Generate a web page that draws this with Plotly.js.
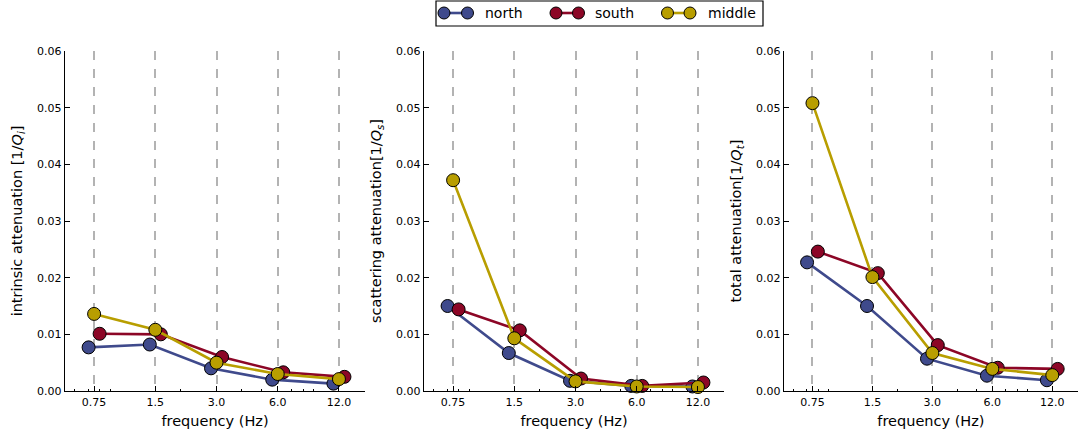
<!DOCTYPE html>
<html>
<head>
<meta charset="utf-8">
<script src="https://cdn.plot.ly/plotly-3.0.1.min.js"></script>
<style>html,body{margin:0;padding:0;background:#fff;}#chart{width:1080px;height:439px;}</style>
</head>
<body>
<div id="chart"></div>
<script>
const freqs = [0.75, 1.5, 3.0, 6.0, 12.0];
const tickLabels = ['0.75', '1.5', '3.0', '6.0', '12.0'];
const minorTicks = [0.6, 0.7, 0.8, 0.9, 2, 3, 4, 5, 6, 7, 8, 9];
const yTicks = [0, 0.01, 0.02, 0.03, 0.04, 0.05, 0.06];

const seriesNames = ['north', 'south', 'middle'];
const seriesColors = ['#3f4a8c', '#8c0626', '#b89e00'];
const shiftByName = {north: -0.09, south: 0.09, middle: 0}; // display offset in octaves

const intrinsicNorth  = [0.0077, 0.0082, 0.0040, 0.0020, 0.0013];
const intrinsicSouth  = [0.0101, 0.0100, 0.0060, 0.0033, 0.0025];
const intrinsicMiddle = [0.0136, 0.0108, 0.0050, 0.0030, 0.0021];

const scatteringNorth  = [0.0150, 0.0067, 0.0018, 0.0009, 0.0008];
const scatteringSouth  = [0.0144, 0.0107, 0.0022, 0.0009, 0.0015];
const scatteringMiddle = [0.0372, 0.0093, 0.0017, 0.0008, 0.0007];

const totalNorth  = [0.0227, 0.0150, 0.0057, 0.0027, 0.0019];
const totalSouth  = [0.0246, 0.0208, 0.0081, 0.0041, 0.0039];
const totalMiddle = [0.0508, 0.0201, 0.0067, 0.0039, 0.0028];

const panels = [
  {title: 'intrinsic attenuation [1/<i>Q</i><sub><i>i</i></sub>]', data: [intrinsicNorth, intrinsicSouth, intrinsicMiddle]},
  {title: 'scattering attenuation[1/<i>Q</i><sub><i>s</i></sub>]', data: [scatteringNorth, scatteringSouth, scatteringMiddle]},
  {title: 'total attenuation[1/<i>Q</i><sub><i>t</i></sub>]', data: [totalNorth, totalSouth, totalMiddle]}
];
const domains = [[0.0602, 0.338], [0.3926, 0.6704], [0.7259, 0.998]];

const W = 1080, H = 439, MT = 51, MB = 48;
const PH = H - MT - MB;
const px = v => v / W;                 // container px -> paper x
const py = v => (H - MB - v) / PH;     // container px -> paper y

const font = 'DejaVu Sans, sans-serif';
const traces = [];
const shapes = [];
const annotations = [];
const layout = {
  width: W, height: H,
  margin: {l: 0, r: 0, t: MT, b: MB},
  paper_bgcolor: '#fff', plot_bgcolor: '#fff',
  font: {family: font, size: 11, color: '#000'},
  showlegend: false,
  shapes: shapes, annotations: annotations
};

panels.forEach((p, i) => {
  const sfx = i === 0 ? '' : String(i + 1);
  seriesNames.forEach((name, j) => {
    const k = Math.pow(2, shiftByName[name]);
    traces.push({
      type: 'scatter', mode: 'lines+markers', name: name,
      x: freqs.map(f => f * k), y: p.data[j],
      xaxis: 'x' + sfx, yaxis: 'y' + sfx,
      line: {color: seriesColors[j], width: 2.6},
      marker: {color: seriesColors[j], size: 13, line: {color: '#000', width: 1}},
      cliponaxis: false
    });
  });
  layout['xaxis' + sfx] = {
    domain: domains[i], anchor: 'y' + sfx, type: 'log',
    range: [-0.268, 1.2075],
    tickmode: 'array', tickvals: freqs, ticktext: tickLabels,
    ticks: 'inside', ticklen: 5, tickwidth: 1, tickcolor: '#000',
    showline: true, linecolor: '#000', linewidth: 1.3,
    showgrid: true, gridcolor: '#b3b3b3', gridwidth: 2, griddash: '9px,9px',
    zeroline: false,
    minor: {tickmode: 'array', tickvals: minorTicks, ticks: 'inside', ticklen: 2.5, tickcolor: '#000', tickwidth: 1, showgrid: false},
    tickfont: {size: 11, family: font},
    title: {text: 'frequency (Hz)', font: {size: 14.5, family: font}, standoff: 8},
    automargin: false
  };
  layout['yaxis' + sfx] = {
    domain: [0, 1], anchor: 'x' + sfx, range: [0, 0.06],
    tickmode: 'array', tickvals: yTicks, tickformat: '.2f',
    ticks: 'inside', ticklen: 5, tickwidth: 1, tickcolor: '#000',
    showline: true, linecolor: '#000', linewidth: 1.3,
    showgrid: false, zeroline: false,
    tickfont: {size: 11, family: font},
    title: {text: p.title, font: {size: 14.5, family: font}, standoff: 11},
    automargin: false
  };
});

// legend (drawn as shapes/annotations to get the two-point symbol)
const legendBox = {x0: 436, x1: 763, y0: 1, y1: 26};
const legendItems = [
  {c1: 444, c2: 467.5, tx: 483},
  {c1: 556, c2: 578.5, tx: 593},
  {c1: 667.5, c2: 690, tx: 706}
];
const legendCy = 13, legendR = 6;
shapes.push({type: 'rect', xref: 'paper', yref: 'paper',
  x0: px(legendBox.x0), x1: px(legendBox.x1), y0: py(legendBox.y1), y1: py(legendBox.y0),
  line: {color: '#000', width: 1.2}, fillcolor: '#fff', layer: 'above'});
legendItems.forEach((it, j) => {
  shapes.push({type: 'line', xref: 'paper', yref: 'paper',
    x0: px(it.c1), x1: px(it.c2), y0: py(legendCy), y1: py(legendCy),
    line: {color: seriesColors[j], width: 2.6}, layer: 'above'});
  [it.c1, it.c2].forEach(c => {
    shapes.push({type: 'circle', xref: 'paper', yref: 'paper',
      x0: px(c - legendR), x1: px(c + legendR), y0: py(legendCy + legendR), y1: py(legendCy - legendR),
      fillcolor: seriesColors[j], line: {color: '#000', width: 1}, layer: 'above'});
  });
  annotations.push({xref: 'paper', yref: 'paper', x: px(it.tx), y: py(legendCy),
    xanchor: 'left', yanchor: 'middle', text: seriesNames[j], showarrow: false,
    font: {family: font, size: 14, color: '#000'}});
});

Plotly.newPlot('chart', traces, layout, {displayModeBar: false, staticPlot: true});
</script>
</body>
</html>
